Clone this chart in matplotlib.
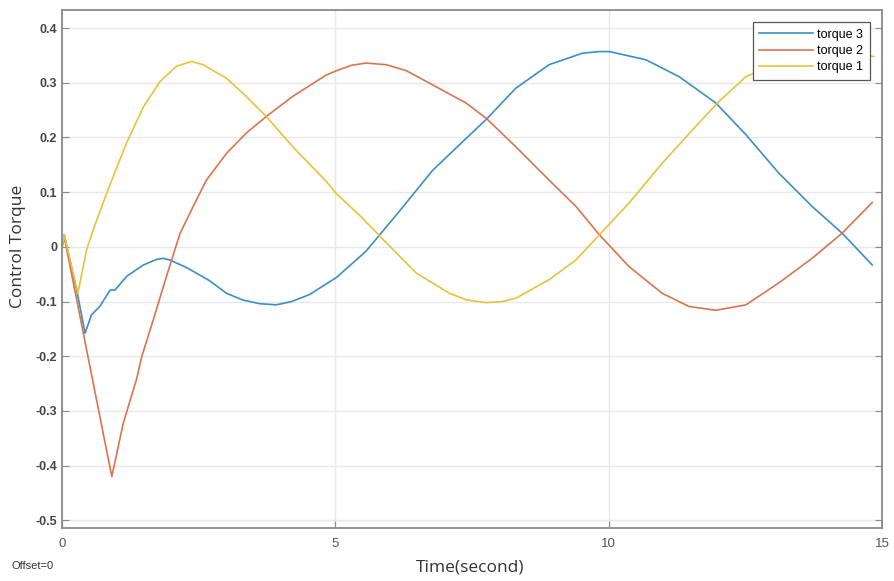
import matplotlib.pyplot as plt

plt.rcParams['axes.unicode_minus'] = False

# torque 1 (yellow)
t1 = [0, 0.04, 0.29, 0.45, 0.57, 0.75, 0.91, 1.18, 1.49, 1.79, 2.09, 2.37, 2.58,
      3.01, 3.37, 3.74, 4.22, 4.83, 5.02, 5.44, 5.81, 6.48, 7.09, 7.4, 7.76,
      8.05, 8.30, 8.91, 9.40, 9.83, 10.37, 10.98, 11.59, 12.02, 12.51, 13.1,
      13.7, 14.3, 14.6, 14.85]
v1 = [0, 0.022, -0.085, -0.005, 0.031, 0.08, 0.122, 0.19, 0.256, 0.302, 0.33,
      0.339, 0.333, 0.308, 0.275, 0.238, 0.183, 0.12, 0.097, 0.058, 0.02,
      -0.048, -0.085, -0.097, -0.102, -0.1, -0.094, -0.060, -0.024, 0.022,
      0.080, 0.153, 0.22, 0.266, 0.311, 0.338, 0.352, 0.355, 0.352, 0.348]

# torque 2 (red)
t2 = [0, 0.04, 0.91, 1.12, 1.36, 1.46, 1.67, 1.91, 2.16, 2.40, 2.64, 3.01, 3.37,
      3.77, 4.22, 4.83, 5.02, 5.3, 5.56, 5.93, 6.3, 6.78, 7.39, 7.76, 8.30,
      8.91, 9.40, 9.83, 10.37, 10.98, 11.47, 11.96, 12.51, 13.11, 13.72, 14.27,
      14.82]
v2 = [0, 0.018, -0.42, -0.322, -0.243, -0.2, -0.133, -0.054, 0.025, 0.074,
      0.122, 0.171, 0.208, 0.241, 0.275, 0.314, 0.322, 0.332, 0.336, 0.333,
      0.322, 0.296, 0.263, 0.235, 0.183, 0.122, 0.074, 0.022, -0.036, -0.085,
      -0.109, -0.116, -0.106, -0.066, -0.021, 0.025, 0.081]

# torque 3 (blue)
t3 = [0, 0.04, 0.29, 0.42, 0.54, 0.69, 0.88, 0.97, 1.18, 1.49, 1.73, 1.85, 1.97,
      2.28, 2.70, 3.01, 3.3, 3.62, 3.92, 4.2, 4.53, 5.02, 5.56, 6.17, 6.78,
      7.39, 7.76, 8.30, 8.91, 9.52, 9.83, 10.01, 10.68, 11.29, 11.96, 12.51,
      13.11, 13.72, 14.27, 14.82]
v3 = [0, 0.022, -0.09, -0.158, -0.124, -0.109, -0.079, -0.079, -0.054, -0.033,
      -0.023, -0.021, -0.024, -0.038, -0.062, -0.085, -0.097, -0.104, -0.106,
      -0.1, -0.087, -0.056, -0.008, 0.065, 0.14, 0.198, 0.233, 0.29, 0.333,
      0.354, 0.357, 0.357, 0.342, 0.311, 0.263, 0.205, 0.135, 0.074, 0.025,
      -0.033]

xticks = [0, 5, 10, 15]
yticks = [0.4, 0.3, 0.2, 0.1, 0, -0.1, -0.2, -0.3, -0.4, -0.5]
ytick_labels = ['0.4', '0.3', '0.2', '0.1', '0', '-0.1', '-0.2', '-0.3', '-0.4', '-0.5']

fig = plt.figure(figsize=(8.94, 5.81), dpi=100)
ax = fig.add_axes([0.0694, 0.0912, 0.9172, 0.8916])

ax.plot(t3, v3, color='#3b8fc5', lw=1.2, label='torque 3')
ax.plot(t2, v2, color='#da7450', lw=1.2, label='torque 2')
ax.plot(t1, v1, color='#e8c23c', lw=1.2, label='torque 1')

ax.set_xlim(0, 15)
ax.set_ylim(-0.514, 0.433)
ax.set_xticks(xticks)
ax.set_yticks(yticks)
ax.set_yticklabels(ytick_labels)
ax.grid(True, color='#e8e8e8', lw=1.0)
ax.set_axisbelow(True)

for s in ax.spines.values():
    s.set_color('#8a8a8a')
    s.set_linewidth(1.3)

ax.tick_params(direction='in', length=5, color='#8a8a8a', labelsize=9,
               labelcolor='#454545', left=True, right=True, top=False, bottom=True)
ax.tick_params(axis='x', pad=7, labelsize=9.5, labelcolor='#555555')
for lab in ax.get_yticklabels():
    lab.set_family('Liberation Sans')
    lab.set_weight('bold')
for lab in ax.get_xticklabels():
    lab.set_family('Liberation Sans')

leg = ax.legend(loc='upper right', prop={'family': 'Liberation Sans', 'size': 9},
                handlelength=4.3, frameon=True, fancybox=False, framealpha=1,
                borderaxespad=1.0, labelspacing=0.35, borderpad=0.5,
                handletextpad=0.35)
leg.get_frame().set_edgecolor('#555555')
leg.get_frame().set_linewidth(0.9)

fig.text(470 / 894, 1 - 568 / 581, 'Time(second)', ha='center', va='center',
         fontsize=12.5, family='Open Sans', color='#333333')
fig.text(18 / 894, 1 - 246 / 581, 'Control Torque', ha='center', va='center',
         rotation=90, fontsize=12.5, family='Open Sans', color='#333333')
fig.text(12 / 894, 1 - 566 / 581, 'Offset=0', ha='left', va='center',
         fontsize=8, family='Liberation Sans', color='#333333')

plt.savefig('out.png', dpi=100)
